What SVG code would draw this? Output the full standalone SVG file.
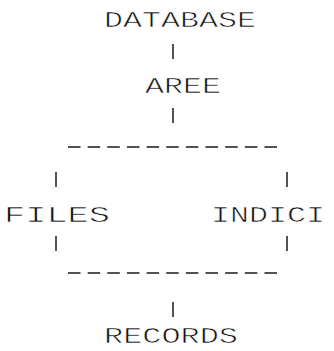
<svg xmlns="http://www.w3.org/2000/svg" width="334" height="351" viewBox="0 0 334 351">
  <style>
    .t { font-family: "Liberation Mono", "DejaVu Sans Mono", monospace; font-size: 22px; fill: #111; stroke: #fff; stroke-width: 0.6px; }
    .v { stroke: #1a1a1a; stroke-width: 1.5; fill: none; }
    .h { stroke: #1a1a1a; stroke-width: 1.7; fill: none; stroke-dasharray: 12.5 7.15; }
  </style>
  <rect width="334" height="351" fill="#fff"/>
  <g id="connectors">
    <line class="v" x1="173" y1="44" x2="173" y2="59"/>
    <line class="v" x1="173" y1="108" x2="173" y2="123"/>
    <line class="h" x1="68" y1="147" x2="277" y2="147"/>
    <line class="v" x1="56" y1="172" x2="56" y2="187"/>
    <line class="v" x1="287" y1="172" x2="287" y2="187"/>
    <line class="v" x1="56" y1="236" x2="56" y2="251"/>
    <line class="v" x1="287" y1="236" x2="287" y2="251"/>
    <line class="h" x1="68" y1="273" x2="277" y2="273"/>
    <line class="v" x1="173" y1="302" x2="173" y2="317"/>
  </g>
  <g id="database">
    <text class="t" x="104" y="27" textLength="152" lengthAdjust="spacingAndGlyphs">DATABASE</text>
  </g>
  <g id="aree">
    <text class="t" x="145" y="93" textLength="76" lengthAdjust="spacingAndGlyphs">AREE</text>
  </g>
  <g id="files">
    <text class="t" x="4" y="222" textLength="106" lengthAdjust="spacingAndGlyphs">FILES</text>
  </g>
  <g id="indici">
    <text class="t" x="211" y="222" textLength="114" lengthAdjust="spacingAndGlyphs">INDICI</text>
  </g>
  <g id="records">
    <text class="t" x="104" y="343" textLength="134" lengthAdjust="spacingAndGlyphs">RECORDS</text>
  </g>
</svg>
